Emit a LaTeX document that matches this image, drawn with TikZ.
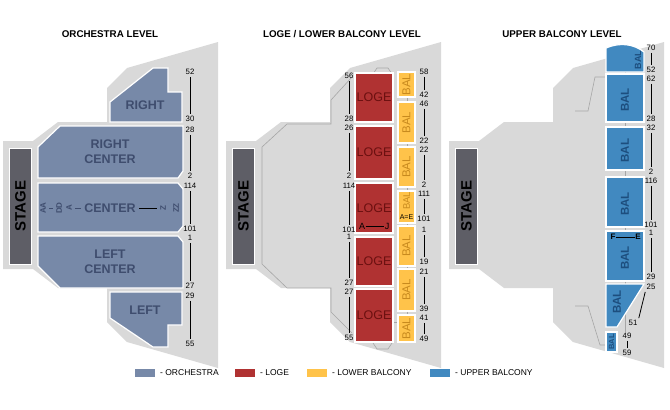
\documentclass[tikz,border=0pt]{standalone}
\usepackage{fontspec}
\setmainfont{Liberation Sans}
\definecolor{hallgray}{HTML}{D9D9D9}
\definecolor{stagegray}{HTML}{5E5E66}
\definecolor{orch}{HTML}{7789A8}
\definecolor{orchtext}{HTML}{3F4D6E}
\definecolor{loge}{HTML}{B03232}
\definecolor{logetext}{HTML}{6B1010}
\definecolor{lowbal}{HTML}{FFC34A}
\definecolor{lowbaltext}{HTML}{C88A1E}
\definecolor{upbal}{HTML}{4189C0}
\definecolor{upbaltext}{HTML}{1D4E7E}
\newcommand{\rowpair}[6]{%
  \node[num] (#1a) at (#2,#3) {#5};
  \node[num] (#1b) at (#2,#4) {#6};
  \draw[rowl] (#1a) -- (#1b);}
\newcommand{\hallshape}[1]{%
  \begin{scope}[xshift=#1]
  \fill[hallgray] (218,42) -- (127,68) -- (107,88) -- (107,122) -- (58,122) -- (33,141)
    -- (3,141) -- (3,269) -- (33,269) -- (58,288) -- (107,288) -- (107,322)
    -- (127,342) -- (218,368) -- cycle;
  \draw[line width=1pt,draw=white,fill=stagegray] (9,148) rectangle (31,264);
  \node[rotate=90,font=\bfseries\fontsize{15}{15}\selectfont] at (20.5,206) {STAGE};
  \end{scope}}

\begin{document}
\begin{tikzpicture}[x=1pt,y=-1pt]
  \tikzstyle{num}=[font=\fontsize{7.8}{8}\selectfont,inner sep=1pt];
  \tikzstyle{rowl}=[line width=0.8pt,shorten >=1pt,shorten <=1pt];
  \tikzstyle{orchsec}=[line width=1.2pt,draw=white,fill=orch];
  \tikzstyle{logesec}=[line width=1.2pt,draw=white,fill=loge];
  \tikzstyle{lowsec}=[line width=1.2pt,draw=white,fill=lowbal];
  \tikzstyle{upsec}=[line width=1.2pt,draw=white,fill=upbal];
  \tikzstyle{orchlabel}=[font=\bfseries\fontsize{12.5}{15}\selectfont,text=orchtext,align=center];
  \tikzstyle{logelabel}=[font=\fontsize{12.5}{13}\selectfont,text=logetext];
  \tikzstyle{lowlabel}=[rotate=90,font=\fontsize{11.5}{12}\selectfont,text=lowbaltext];
  \tikzstyle{uplabel}=[rotate=90,font=\bfseries\fontsize{11.5}{12}\selectfont,text=upbaltext];
  \tikzstyle{title}=[font=\bfseries\fontsize{9.8}{10}\selectfont];
  \tikzstyle{inner}=[draw=gray!70,line width=0.6pt];
  \tikzstyle{legbox}=[minimum width=20pt,minimum height=8pt,inner sep=0pt];
  \tikzstyle{legtext}=[font=\fontsize{8.5}{9}\selectfont,anchor=west,inner sep=0pt];
  \useasboundingbox (0,0) rectangle (670,410);

  % titles
  \node[title] (t1) at (110,34) {ORCHESTRA LEVEL};
  \node[title] (t2) at (342,34) {LOGE / LOWER BALCONY LEVEL};
  \node[title] (t3) at (562,34) {UPPER BALCONY LEVEL};

  % halls
  \hallshape{0pt}
  \hallshape{223pt}
  \hallshape{446pt}

  % orchestra level
  \draw[orchsec] (110,102) -- (153,68) -- (168,68) -- (168,92) -- (182,92) -- (182,122) -- (110,122) -- cycle;
  \draw[orchsec] (60,126) -- (183,126) -- (183,171) -- (178,178) -- (38,178) -- (38,147) -- cycle;
  \draw[orchsec] (38,183) -- (178,183) -- (183,189) -- (183,226) -- (178,232) -- (38,232) -- cycle;
  \draw[orchsec] (38,236) -- (178,236) -- (183,242) -- (183,288) -- (60,288) -- (38,266) -- cycle;
  \draw[orchsec] (110,292) -- (182,292) -- (182,325) -- (168,325) -- (168,347) -- (153,347) -- (110,318) -- cycle;
  \node[orchlabel] (right) at (145,105) {RIGHT};
  \node[orchlabel] (rcenter) at (110,152) {RIGHT\\CENTER};
  \node[orchlabel] (center) at (110,208) {CENTER};
  \node[orchlabel] (lcenter) at (110,262) {LEFT\\CENTER};
  \node[orchlabel] (left) at (145,310) {LEFT};
  \node[orchlabel,rotate=90,font=\bfseries\fontsize{8}{8}\selectfont] (aa) at (43,208) {AA};
  \node[orchlabel,rotate=90,font=\bfseries\fontsize{8}{8}\selectfont] (dd) at (59,208) {DD};
  \node[orchlabel,rotate=90,font=\bfseries\fontsize{8}{8}\selectfont] (ra) at (69,208) {A};
  \node[orchlabel,rotate=90,font=\bfseries\fontsize{8}{8}\selectfont] (rz) at (163,208) {Z};
  \node[orchlabel,rotate=90,font=\bfseries\fontsize{8}{8}\selectfont] (zz) at (176,208) {ZZ};
  \draw[orchtext,line width=0.8pt] (aa) -- (dd);
  \draw[orchtext,line width=0.8pt] (ra) -- (center);
  \draw[black,line width=0.8pt] (center) -- (rz);
  \rowpair{o1}{190}{72}{119}{52}{30}
  \rowpair{o2}{190}{130}{176}{28}{2}
  \rowpair{o3}{190}{186}{229}{114}{101}
  \rowpair{o4}{190}{238}{286}{1}{27}
  \rowpair{o5}{190}{296}{344}{29}{55}

  % loge / lower balcony level
  \draw[inner] (352,77) -- (331,100) -- (331,124) -- (287,124) -- (262,147) -- (262,264)
    -- (287,288) -- (331,288) -- (331,312) -- (352,333);
  \draw[inner] (373,74) -- (377,68) -- (388,68) -- (392,74);
  \draw[inner] (373,343) -- (377,349) -- (388,349) -- (392,343);
  \draw[inner] (407,72) -- (407,342);
  \draw[inner] (393,322) -- (398,322);
  \foreach \i/\ya/\yb in {1/73/122,2/126/179,3/183/233,4/237/286,5/289/342}{
    \draw[logesec] (355,\ya) rectangle (393,\yb);
    \node[logelabel] (loge\i) at (374,{(\ya+\yb)/2}) {LOGE};
  }
  \node[font=\fontsize{9}{9}\selectfont,inner sep=0.5pt] (la) at (362,226) {A};
  \node[font=\fontsize{9}{9}\selectfont,inner sep=0.5pt] (lj) at (387,226) {J};
  \draw[line width=0.8pt] (la) -- (lj);
  \foreach \i/\ya/\yb in {1/72/97,2/102/143,3/147/187,5/226/266,6/269/311,7/315/342}{
    \draw[lowsec] (398,\ya) rectangle (415,\yb);
    \node[lowlabel] (bal\i) at (406.5,{(\ya+\yb)/2}) {BAL};
  }
  \draw[lowsec] (398,191) rectangle (415,223);
  \node[lowlabel,font=\fontsize{9.5}{10}\selectfont] (bal4) at (406.5,201) {BAL};
  \node[font=\fontsize{7}{7}\selectfont,inner sep=0pt] (ae) at (406.5,217) {A=E};
  \rowpair{m1}{349}{76}{119}{56}{28}
  \rowpair{m2}{349}{128}{176}{26}{2}
  \rowpair{m3}{349}{186}{230}{114}{101}
  \rowpair{m4}{349}{237}{283}{1}{27}
  \rowpair{m5}{349}{292}{338}{27}{55}
  \rowpair{b1}{424}{72}{95}{58}{42}
  \rowpair{b2}{424}{104}{141}{46}{22}
  \rowpair{b3}{424}{150}{185}{22}{2}
  \rowpair{b4}{424}{194}{219}{111}{101}
  \rowpair{b5}{424}{230}{262}{1}{19}
  \rowpair{b6}{424}{272}{309}{21}{39}
  \rowpair{b7}{424}{318}{339}{41}{49}

  % upper balcony level
  \draw[inner] (575,111) -- (588,111) -- (595,77) -- (606,77);
  \draw[inner] (575,306) -- (588,306) -- (600,345) -- (606,345);
  \draw[inner] (625,72) -- (625,332);
  \draw[upsec] (606,72) -- (606,48) .. controls (620,42) and (634,44) .. (644,52) -- (644,72) -- cycle;
  \node[uplabel,font=\bfseries\fontsize{9}{9}\selectfont] (ub1) at (638,60) {BAL};
  \foreach \i/\ya/\yb in {2/74/122,3/127/170,4/177/227,5/231/281}{
    \draw[upsec] (606,\ya) rectangle (644,\yb);
    \node[uplabel] (ub\i) at (625,{(\ya+\yb)/2+2}) {BAL};
  }
  \draw[upsec] (606,284) -- (644,284) -- (617,327) -- (606,327) -- cycle;
  \node[uplabel] (ub6) at (617,302) {BAL};
  \draw[upsec] (606,332) rectangle (617,352);
  \node[uplabel,font=\bfseries\fontsize{7.5}{8}\selectfont] (ub7) at (611.5,342) {BAL};
  \node[font=\bfseries\fontsize{8}{8}\selectfont,inner sep=0.5pt] (uf) at (613,237) {F};
  \node[font=\bfseries\fontsize{8}{8}\selectfont,inner sep=0.5pt] (ue) at (638,237) {E};
  \draw[line width=0.8pt] (uf) -- (ue);
  \rowpair{u1}{651}{48}{70}{70}{52}
  \rowpair{u2}{651}{79}{119}{62}{28}
  \rowpair{u3}{651}{128}{172}{32}{2}
  \rowpair{u4}{651}{181}{225}{116}{101}
  \rowpair{u5}{651}{233}{277}{1}{29}
  \node[num] (u6a) at (651,287) {25};
  \node[num] (u6b) at (633,323) {51};
  \draw[rowl] (u6a.south west) -- (u6b.north east);
  \rowpair{u7}{627}{336}{353}{49}{59}

  % legend
  \node[legbox,fill=orch] (lg1) at (145,373) {};
  \node[legtext] (lt1) at (160,373) {- ORCHESTRA};
  \node[legbox,fill=loge] (lg2) at (245,373) {};
  \node[legtext] (lt2) at (260,373) {- LOGE};
  \node[legbox,fill=lowbal] (lg3) at (317,373) {};
  \node[legtext] (lt3) at (332,373) {- LOWER BALCONY};
  \node[legbox,fill=upbal] (lg4) at (440,373) {};
  \node[legtext] (lt4) at (455,373) {- UPPER BALCONY};
\end{tikzpicture}
\end{document}
